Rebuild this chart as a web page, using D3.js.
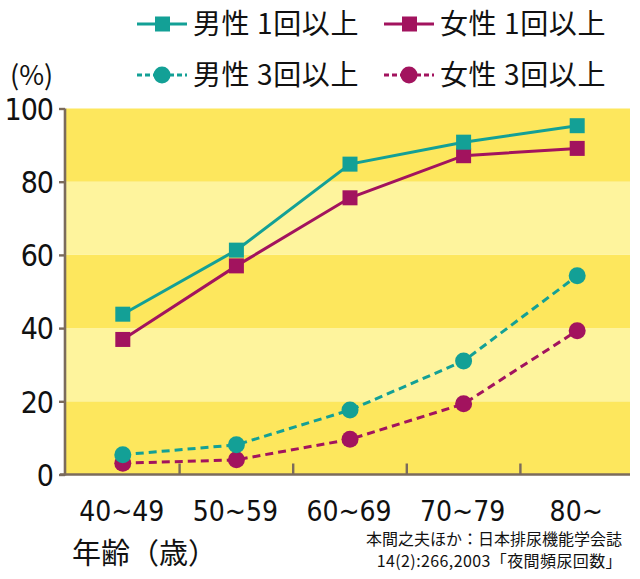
<!DOCTYPE html>
<html><head><meta charset="utf-8">
<script src="https://cdn.jsdelivr.net/npm/d3@7"></script>
<style>
html,body{margin:0;padding:0;background:#fff;}
text{font-family:"Noto Sans CJK JP","Noto Sans",sans-serif;fill:#111;}
</style></head>
<body>
<svg id="c" width="640" height="579"></svg>
<script>
const categories = ["40～49","50～59","60～69","70～79","80～"];
const male1 = [43.8, 61.3, 84.8, 90.8, 95.3];
const female1 = [36.9, 57.0, 75.6, 87.1, 89.1];
const male3 = [5.4, 8.1, 17.6, 31.0, 54.3];
const female3 = [3.1, 4.0, 9.6, 19.3, 39.3];
const yTicks = [0, 20, 40, 60, 80, 100];
const seriesNames = ["男性 1回以上","女性 1回以上","男性 3回以上","女性 3回以上"];

const TEAL = "#13a096", MAG = "#a2135e", AXIS = "#7b6b5c";
const DARK = "#fde75d", LIGHT = "#fef49d";

const svg = d3.select("#c");
const L = 66, R = 634, T = 108.5, B = 474.5, PR = 630;
const x = d3.scaleBand().domain(categories).range([L, R]);
const y = d3.scaleLinear().domain([0, 100]).range([B, T]);

// background bands
const bands = d3.range(5).map(i => ({lo: i*20, hi: i*20+20, dark: i % 2 === 0}));
svg.append("g").selectAll("rect").data(bands).join("rect")
  .attr("x", L).attr("width", PR - L)
  .attr("y", d => y(d.hi)).attr("height", d => y(d.lo) - y(d.hi))
  .attr("fill", d => d.dark ? DARK : LIGHT);

// y axis
const yAxis = d3.axisLeft(y).tickValues(yTicks).tickSize(6).tickPadding(6);
const gy = svg.append("g").attr("transform", `translate(${L-1},0)`).call(yAxis);
gy.select(".domain").attr("stroke", AXIS).attr("stroke-width", 2.6).attr("d", `M0,${T}V${B+1}`);
gy.selectAll(".tick line").attr("stroke", AXIS).attr("stroke-width", 2.4);
gy.selectAll(".tick text").attr("font-size", 30).attr("fill", "#111").attr("dy", "0.36em")
  .style("font-family", "'Liberation Sans Narrow','DejaVu Sans Condensed',sans-serif").attr("letter-spacing", "-1");

// x axis
svg.append("line").attr("x1", L-6).attr("x2", PR).attr("y1", B).attr("y2", B)
  .attr("stroke", AXIS).attr("stroke-width", 2.6);
const sepTicks = categories.slice(1).map(c => x(c));
svg.append("g").selectAll("line").data(sepTicks).join("line")
  .attr("x1", d => d).attr("x2", d => d).attr("y1", B).attr("y2", B - 11)
  .attr("stroke", AXIS).attr("stroke-width", 2.4);
svg.append("g").selectAll("text").data(categories).join("text")
  .attr("x", d => x(d) + x.bandwidth()/2 - 1).attr("y", 521)
  .attr("text-anchor", "middle").attr("font-size", 28)
  .style("font-family", "'Liberation Sans Narrow','DejaVu Sans Condensed',sans-serif")
  .text(d => d.replace("～", "~"));

const cx = d => x(d) + x.bandwidth()/2;
const line = d3.line().x((v, i) => cx(categories[i])).y(v => y(v));

function drawSeries(vals, color, dashed, shape) {
  svg.append("path").datum(vals).attr("d", line).attr("fill", "none")
    .attr("stroke", color).attr("stroke-width", 3)
    .attr("stroke-dasharray", dashed ? "8,5" : null);
  const g = svg.append("g");
  if (shape === "square") {
    g.selectAll("rect").data(vals).join("rect")
      .attr("x", (v, i) => cx(categories[i]) - 7.5).attr("y", v => y(v) - 7.5)
      .attr("width", 15).attr("height", 15).attr("fill", color);
  } else {
    g.selectAll("circle").data(vals).join("circle")
      .attr("cx", (v, i) => cx(categories[i])).attr("cy", v => y(v)).attr("r", 8.5)
      .attr("fill", color);
  }
}
drawSeries(female3, MAG, true, "circle");
drawSeries(male3, TEAL, true, "circle");
drawSeries(female1, MAG, false, "square");
drawSeries(male1, TEAL, false, "square");

// legend
const legend = [
  {name: seriesNames[0], color: TEAL, dashed: false, shape: "square", lx: 137, ly: 24},
  {name: seriesNames[1], color: MAG, dashed: false, shape: "square", lx: 384, ly: 24},
  {name: seriesNames[2], color: TEAL, dashed: true, shape: "circle", lx: 137, ly: 75},
  {name: seriesNames[3], color: MAG, dashed: true, shape: "circle", lx: 384, ly: 75}
];
legend.forEach(d => {
  const g = svg.append("g");
  g.append("line").attr("x1", d.lx).attr("x2", d.lx + 50).attr("y1", d.ly).attr("y2", d.ly)
    .attr("stroke", d.color).attr("stroke-width", 3).attr("stroke-dasharray", d.dashed ? "5,3" : null);
  if (d.shape === "square") g.append("rect").attr("x", d.lx + 18).attr("y", d.ly - 7.5).attr("width", 15).attr("height", 15).attr("fill", d.color);
  else g.append("circle").attr("cx", d.lx + 25).attr("cy", d.ly).attr("r", 8.5).attr("fill", d.color);
  g.append("text").attr("x", d.lx + 56).attr("y", d.ly).attr("dy", "0.36em").attr("font-size", 28)
    .attr("letter-spacing", "0.6").text(d.name);
});

svg.append("text").attr("x", 10).attr("y", 75).attr("dy", "0.36em").attr("font-size", 27).text("(%)");
svg.append("text").attr("x", 72).attr("y", 554).attr("dy", "0.36em").attr("font-size", 29).text("年齢（歳）");
svg.append("text").attr("x", 622).attr("y", 545).attr("text-anchor", "end").attr("font-size", 16).text("本間之夫ほか：日本排尿機能学会誌");
svg.append("text").attr("x", 622).attr("y", 567).attr("text-anchor", "end").attr("font-size", 16)
  .attr("letter-spacing", "0.4").text("14(2):266,2003「夜間頻尿回数」");
</script>
</body></html>
